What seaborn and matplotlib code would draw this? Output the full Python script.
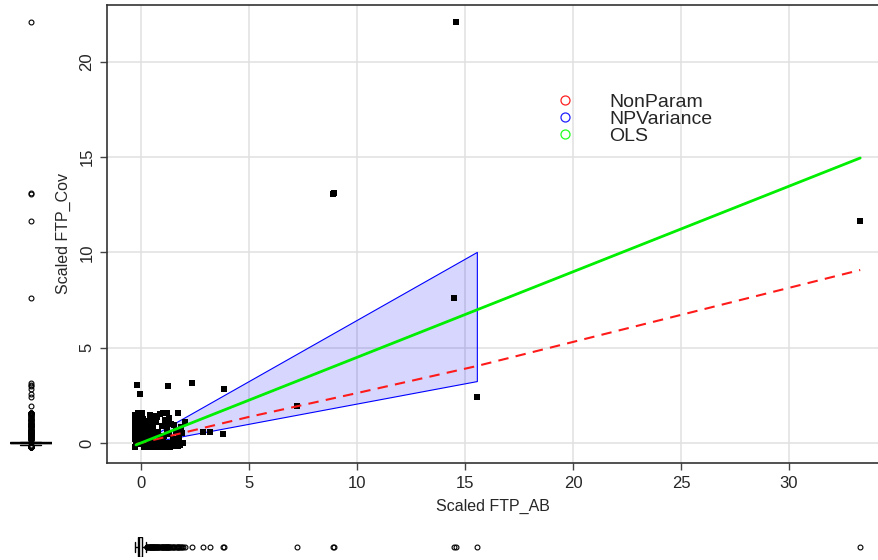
import matplotlib
matplotlib.use("Agg")
import matplotlib.pyplot as plt
from matplotlib.lines import Line2D
import pandas as pd
import seaborn as sns

# dense cluster of observations around the origin
ab_cluster = [
    -0.20, -0.18, -0.15, -0.12, -0.10, -0.08, -0.05, -0.02, 0.00, 0.03,
    -0.19, -0.16, -0.14, -0.11, -0.09, -0.06, -0.04, -0.01, 0.02, 0.05,
    -0.21, -0.17, -0.13, -0.10, -0.07, -0.03, 0.01, 0.04, -0.12, -0.15,
    -0.18, -0.14, -0.11, -0.08, -0.05, -0.02, 0.00, -0.16, -0.13, -0.09,
    -0.20, -0.17, -0.12, -0.10, -0.06, -0.03, 0.02, -0.14, -0.11, -0.07,
    -0.15, -0.13, -0.10, -0.08, -0.12, -0.16, -0.09, -0.04, -0.11, -0.14,
    -0.19, -0.12, -0.07, -0.05, -0.10, -0.17, -0.13, -0.06, -0.01, -0.12,
    -0.16, -0.09, -0.14, -0.18, -0.05, -0.10, -0.13, -0.15, -0.08, -0.02,
    -0.15, -0.11, -0.07, -0.17, -0.12, -0.09, -0.14, -0.06, -0.19, -0.10,
    -0.13, -0.16, -0.04, -0.11, -0.08, -0.20, -0.12, -0.15, -0.09, -0.03,
    -0.14, -0.12, -0.10, -0.16, -0.11, -0.13, -0.09, -0.15, -0.12, -0.10,
    -0.17, -0.08, -0.13, -0.11, -0.14, -0.06, -0.12, -0.16, -0.10, -0.13,
    -0.09, -0.15, -0.11, -0.12, -0.18, -0.07, -0.14, -0.10, -0.13, -0.11,
    -0.12, -0.16, -0.08, -0.14, -0.10, -0.13, -0.15, -0.09, -0.12, -0.11,
    -0.13, -0.10, -0.17, -0.12, -0.14, -0.08, -0.11, -0.15, -0.13, -0.10,
    -0.16, -0.12, -0.09, -0.14, -0.11, -0.13, -0.10, -0.18, -0.12, -0.07,
    -0.11, -0.14, -0.12, -0.10, -0.15, -0.13, -0.09, -0.12, -0.16, -0.11,
    -0.10, -0.13, -0.14, -0.08, -0.12, -0.11, -0.15, -0.10, -0.13, -0.12,
    -0.14, -0.09, -0.11, -0.16, -0.12, -0.10, -0.13, -0.15, -0.11, -0.12,
    -0.12, -0.14, -0.10, -0.13, -0.11, -0.17, -0.09, -0.12, -0.14, -0.13,
    -0.11, -0.13, -0.12, -0.15, -0.10, -0.14, -0.12, -0.09, -0.13, -0.16,
    -0.12, -0.10, -0.14, -0.11, -0.13, -0.08, -0.15, -0.12, -0.10, -0.14,
    -0.13, -0.11, -0.16, -0.12, -0.09, -0.14, -0.10, -0.13, -0.12, -0.15,
    -0.10, -0.12, -0.13, -0.11, -0.14, -0.12, -0.16, -0.10, -0.11, -0.13,
    -0.14, -0.12, -0.08, -0.13, -0.15, -0.11, -0.12, -0.10, -0.14, -0.12,
]
cov_cluster = [
    -0.06, -0.03, 0.00, 0.04, -0.05, -0.02, 0.05, -0.04, 0.02, -0.01,
    -0.03, 0.03, -0.05, 0.00, -0.02, 0.04, -0.04, 0.06, -0.01, -0.06,
    0.01, -0.03, 0.03, 0.05, -0.02, 0.04, 0.02, -0.05, 0.01, 0.03,
    -0.04, 0.00, -0.03, 0.02, -0.04, 0.01, -0.02, 0.03, 0.00, 0.04,
    -0.01, -0.05, -0.01, -0.03, -0.03, -0.02, 0.02, -0.01, -0.04, 0.05,
    -0.02, 0.01, -0.01, -0.03, 0.02, -0.01, -0.02, 0.01, -0.01, 0.00,
    0.01, -0.02, -0.01, -0.03, 0.02, -0.01, 0.00, -0.01, 0.01, -0.02,
    -0.01, 0.01, -0.03, -0.01, 0.00, -0.02, 0.01, -0.02, -0.01, 0.02,
    -0.01, 0.00, -0.02, 0.01, -0.01, -0.02, 0.01, -0.01, 0.00, -0.01,
    0.01, -0.02, 0.00, -0.01, 0.01, -0.01, 0.00, -0.01, 0.01, -0.01,
    0.00, -0.01, 0.01, -0.02, 0.00, 0.01, -0.01, 0.00, -0.02, 0.01,
    -0.01, 0.00, 0.02, -0.01, 0.00, -0.02, 0.01, 0.00, -0.01, 0.00,
    0.01, -0.01, 0.00, -0.02, 0.01, 0.00, -0.01, 0.01, 0.00, -0.01,
    0.00, 0.01, -0.01, 0.00, -0.01, 0.02, 0.00, -0.01, 0.01, 0.00,
    -0.01, 0.00, 0.01, -0.01, 0.00, -0.02, 0.00, 0.01, -0.01, 0.00,
    0.00, -0.01, 0.01, 0.00, -0.01, 0.00, 0.01, -0.01, 0.00, 0.01,
    -0.01, 0.00, -0.01, 0.01, 0.00, -0.01, 0.00, 0.01, -0.01, 0.00,
    0.01, -0.01, 0.00, 0.00, -0.01, 0.01, 0.00, -0.01, 0.00, 0.01,
    0.00, -0.01, 0.01, 0.00, -0.01, 0.00, 0.01, 0.00, -0.01, 0.00,
    -0.01, 0.00, 0.01, -0.01, 0.00, 0.01, -0.01, 0.00, 0.00, -0.01,
    0.00, 0.01, -0.01, 0.00, 0.01, -0.01, 0.00, 0.01, 0.00, -0.01,
    0.01, 0.00, -0.01, 0.00, 0.01, 0.00, -0.01, 0.00, 0.01, -0.01,
    -0.01, 0.00, 0.01, -0.01, 0.00, 0.01, 0.00, -0.01, 0.00, 0.01,
    0.00, -0.01, 0.00, 0.01, -0.01, 0.00, 0.01, -0.01, 0.00, 0.00,
    0.01, 0.00, -0.01, 0.00, 0.01, -0.01, 0.00, 0.01, -0.01, 0.00,
]

# spread of the blob
ab_tail = [
    -0.28, -0.25, -0.20, -0.22, -0.18, -0.15, -0.10, -0.05, 0.00, 0.05,
    -0.26, -0.12, 0.10, 0.15, 0.20, 0.10, 0.25, 0.30, 0.35, 0.40,
    0.45, 0.50, 0.55, 0.60, 0.65, 0.70, 0.80, 0.85, 0.90, 0.95,
    1.00, 1.05, 1.10, 1.15, 1.20, 1.30, 1.40, 1.50, 1.60, 1.70,
    1.75, 1.80, 1.90, 2.04, 1.45, 0.75, 0.30, -0.30, 0.20, 0.55,
    0.40, 0.05, -0.15, 0.95, 0.25,
    -0.27, -0.27, -0.27, -0.27, -0.27, -0.05, -0.05, -0.05, -0.05, 0.03,
    0.03, 0.03, 0.03, -0.16, -0.16,
    0.15, 0.35, 0.50, 0.65, 0.80, 0.95, 1.10, 1.25, 1.35, 1.55,
    1.65, 0.25, 0.45, 0.70, 1.00, 1.20, 0.20, 0.90, 1.70, 1.95,
    0.30, 0.55, 0.75, 1.10, 1.30, 0.60, 0.40, 1.55, 1.85, 1.20,
]
cov_tail = [
    0.30, 0.55, 0.80, 1.05, 1.30, 1.55, 1.60, 1.40, 1.20, 1.50,
    0.90, 0.45, 0.30, 0.70, 1.00, 1.25, 0.45, 0.15, 0.90, 0.55,
    1.20, 0.25, 0.75, -0.10, 0.40, 1.10, 0.60, 0.20, 1.50, 0.90,
    1.55, 0.35, 1.20, -0.05, 0.70, 0.45, 1.00, 0.20, 0.65, 1.57,
    0.30, -0.10, 0.55, 1.10, -0.15, -0.20, -0.20, -0.22, 0.40, 0.50,
    0.85, 0.65, 0.15, 0.30, 1.15,
    0.20, 0.45, 0.70, 1.20, 1.45, 0.25, 0.50, 0.75, 1.00, 1.55,
    0.40, 0.65, 0.90, 0.60, 1.00,
    -0.20, -0.10, 0.00, -0.20, 0.05, -0.15, -0.20, 0.00, -0.20, -0.05,
    0.05, 0.05, -0.22, -0.05, 0.03, -0.12, -0.05, -0.22, -0.15, 0.00,
    0.60, 1.00, 1.35, 0.90, 1.30, 1.40, 1.45, 0.95, 0.85, 1.55,
]

# isolated points
ab_far = [14.6, 8.9, 8.95, 33.3, 14.5, 15.55, 7.2, 3.84, 2.36, 1.24,
          -0.18, -0.05, 3.8, 3.2, 2.86]
cov_far = [22.1, 13.05, 13.1, 11.65, 7.6, 2.4, 1.94, 2.83, 3.15, 3.0,
           3.04, 2.57, 0.47, 0.58, 0.58]

# fitted curves
ols_x = [-0.23, 33.3]
ols_y = [-0.1, 14.96]
nonparam_x = [-0.23, 5.0, 10.0, 15.55, 33.3]
nonparam_y = [-0.06, 1.37, 2.62, 4.04, 9.08]
band_x = [-0.23, 15.55]
band_lower = [-0.1, 3.25]
band_upper = [-0.1, 10.03]

legend_labels = ["NonParam", "NPVariance", "OLS"]
legend_colors = ["#ff2020", "#2020ff", "#20ff20"]

df = pd.DataFrame({
    "ab": ab_cluster + ab_tail + ab_far,
    "cov": cov_cluster + cov_tail + cov_far,
})

sns.set_theme(style="white")
plt.rcParams["font.family"] = ["Liberation Sans", "DejaVu Sans"]

W, H = 879, 560
fig = plt.figure(figsize=(W / 100, H / 100), dpi=100)
ax = fig.add_axes([107 / W, 1 - 463 / H, 1 - 107 / W, 458 / H])
ax_left = fig.add_axes([10 / W, 1 - 463 / H, 42 / W, 458 / H], sharey=ax)
ax_bot = fig.add_axes([107 / W, 1 - 557 / H, 1 - 107 / W, 20 / H], sharex=ax)

for v in range(0, 35, 5):
    ax.axvline(v, color="#e0e0e0", lw=1.1, zorder=0)
for v in range(0, 25, 5):
    ax.axhline(v, color="#e0e0e0", lw=1.1, zorder=0)

ax.fill_between(band_x, band_lower, band_upper, facecolor=(0, 0, 1, 0.16),
                edgecolor="blue", lw=0.8, zorder=1)
sns.scatterplot(data=df, x="ab", y="cov", marker="s", s=20, color="black",
                linewidth=0, ax=ax, zorder=2)
sns.lineplot(x=nonparam_x, y=nonparam_y, color="#ff1a1a", lw=1.5, ax=ax,
             linestyle=(0, (5, 3.5)), zorder=3)
sns.lineplot(x=ols_x, y=ols_y, color="#00ee00", lw=2, ax=ax, zorder=4)

ax.set_xticks(range(0, 35, 5))
ax.set_yticks(range(0, 25, 5))
ax.set_xlabel("Scaled FTP_AB", fontsize=11.5, labelpad=6)
ax.set_ylabel("Scaled FTP_Cov", fontsize=11.5, labelpad=6)
ax.tick_params(axis="both", labelsize=12, length=5, width=1, color="#444444",
               direction="out", pad=4)
plt.setp(ax.get_yticklabels(), rotation=90, va="center")
ax.spines["right"].set_visible(False)
for s in ["left", "top", "bottom"]:
    ax.spines[s].set_color("#333333")
    ax.spines[s].set_linewidth(1.2)
ax.xaxis.set_ticks_position("bottom")
ax.yaxis.set_ticks_position("left")

handles = [Line2D([], [], marker="o", linestyle="none", markerfacecolor="none",
                  markeredgecolor=c, markersize=6.5, markeredgewidth=0.9)
           for c in legend_colors]
ax.legend(handles, legend_labels, loc="upper left", frameon=False,
          bbox_to_anchor=(555 / W, 1 - 93 / H), bbox_transform=fig.transFigure,
          fontsize=14, handlelength=1, handletextpad=1.8, labelspacing=-0.02,
          borderpad=0, borderaxespad=0)

flier = dict(marker="o", markerfacecolor="none", markeredgecolor="black",
             markersize=3.5, markeredgewidth=0.8)
sns.boxplot(y=df["cov"], ax=ax_left, width=1, color="white", linecolor="black",
            linewidth=1, flierprops=flier)
ax_left.set_xlim(-0.5, 0.5)
ax_left.axis("off")

sns.boxplot(x=df["ab"], ax=ax_bot, width=1, color="white", linecolor="black",
            linewidth=1, flierprops=flier, orient="h")
ax_bot.set_ylim(0.5, -0.5)
ax_bot.axis("off")

ax.set_xlim(-1.574, 34.17)
ax.set_ylim(-1.05, 22.99)

fig.savefig("out.png", dpi=100)
